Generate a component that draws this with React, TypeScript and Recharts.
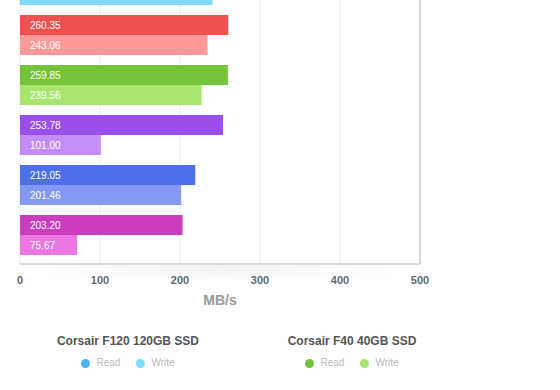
import { Bar, BarChart, CartesianGrid, Cell, LabelList, Label, ReferenceLine, XAxis, YAxis } from 'recharts';

const drives = ['Corsair F120 120GB SSD', 'Drive 2', 'Corsair F40 40GB SSD', 'Drive 4', 'Drive 5', 'Drive 6'];
const readSpeeds = [275, 260.35, 259.85, 253.78, 219.05, 203.2];
// write labels as printed, and bar lengths as captured (some bars still growing in the shot)
const writeSpeeds = [240.3, 243.06, 239.56, 101.0, 201.46, 75.67];
const writeDrawn = [240.6, 234.4, 227, 101.0, 201.46, 71.4];
const readColors = ['#4cb6ec', '#ef5050', '#74c43a', '#9a4eea', '#4f70eb', '#cb3dbd'];
const writeColors = ['#80dafc', '#ff9a9a', '#a7e56f', '#c38df5', '#8399f3', '#ea78e0'];
const xTicks = [0, 100, 200, 300, 400, 500];
const legendIndex = [0, 2];
const seriesNames = ['Read', 'Write'];

const data = drives.map((name, i) => ({
  name,
  read: readSpeeds[i],
  write: writeDrawn[i],
  writeLabel: writeSpeeds[i],
}));

const FONT = '"Liberation Sans", Arial, Helvetica, sans-serif';
const fmt = (v: any) => Number(v).toFixed(2);

function Dot({ color }: { color: string }) {
  return <span style={{ display: 'inline-block', width: 9, height: 9, borderRadius: '50%', background: color }} />;
}

function LegendBlock({ idx, center }: { idx: number; center: number }) {
  return (
    <div style={{ position: 'absolute', left: center - 112, top: 334, width: 224, textAlign: 'center' }}>
      <div style={{ fontSize: 12, fontWeight: 'bold', color: '#555', lineHeight: '15px' }}>{drives[idx]}</div>
      <div style={{ display: 'flex', justifyContent: 'center', alignItems: 'center', marginTop: 8, fontSize: 10, color: '#bbb', lineHeight: '12px' }}>
        <Dot color={readColors[idx]} />
        <span style={{ marginLeft: 6 }}>{seriesNames[0]}</span>
        <span style={{ marginLeft: 16 }} />
        <Dot color={writeColors[idx]} />
        <span style={{ marginLeft: 6 }}>{seriesNames[1]}</span>
      </div>
    </div>
  );
}

export default function App() {
  return (
    <div style={{ position: 'absolute', left: 0, top: 0, width: 560, height: 390, overflow: 'hidden', background: '#fff', fontFamily: FONT }}>
      {/* soft shadow under the plot frame */}
      <div
        style={{
          position: 'absolute', left: 20, top: 265, width: 400, height: 16,
          background: 'radial-gradient(ellipse 50% 100% at 50% 0%, rgba(0,0,0,0.06), rgba(0,0,0,0))',
        }}
      />
      <div style={{ position: 'absolute', left: 0, top: -50 }}>
        <BarChart
          width={560}
          height={364}
          data={data}
          layout="vertical"
          margin={{ top: 10, right: 140, bottom: 0, left: 20 }}
          barGap={0}
        >
          <CartesianGrid horizontal={false} stroke="#ececec" />
          <XAxis
            type="number"
            domain={[0, 500]}
            ticks={xTicks}
            interval={0}
            height={50}
            axisLine={{ stroke: '#bbb' }}
            tickLine={false}
            tickMargin={6}
            tick={{ fill: '#666', fontSize: 11, fontWeight: 'bold' }}
          >
            <Label value="MB/s" position="insideBottom" offset={9} fill="#999" fontSize={14} fontWeight="bold" />
          </XAxis>
          <YAxis
            type="category"
            dataKey="name"
            width={0}
            tick={false}
            tickLine={false}
            axisLine={{ stroke: '#bbb' }}
            padding={{ top: 0, bottom: 4 }}
          />
          <ReferenceLine x={500} stroke="#bbb" />
          <Bar dataKey="read" barSize={20} isAnimationActive={false}>
            {data.map((d, i) => <Cell key={d.name} fill={readColors[i]} />)}
            <LabelList dataKey="read" position="insideLeft" offset={10} fill="#fff" fontSize={10} formatter={fmt} />
          </Bar>
          <Bar dataKey="write" barSize={20} isAnimationActive={false}>
            {data.map((d, i) => <Cell key={d.name} fill={writeColors[i]} />)}
            <LabelList dataKey="writeLabel" position="insideLeft" offset={10} fill="#fff" fontSize={10} formatter={fmt} />
          </Bar>
        </BarChart>
      </div>
      <LegendBlock idx={legendIndex[0]} center={128} />
      <LegendBlock idx={legendIndex[1]} center={352} />
    </div>
  );
}
